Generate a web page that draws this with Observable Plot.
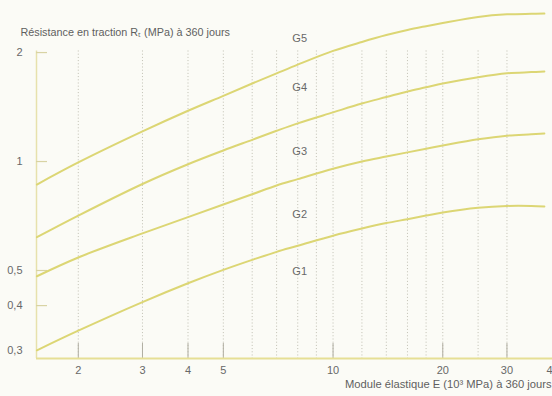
<!DOCTYPE html>
<html><head><meta charset="utf-8">
<script src="https://cdn.jsdelivr.net/npm/d3@7"></script>
<script src="https://cdn.jsdelivr.net/npm/@observablehq/plot@0.6"></script>
<style>
html,body{margin:0;padding:0;background:#fbfbf6;overflow:hidden;}
</style></head><body><div id="chart"></div>
<script>
// Module élastique E (10^3 MPa) sample points
const modulus = [1.54, 2, 3, 4, 5, 6, 7, 8, 10, 12, 14, 16, 18, 20, 25, 30, 35, 38];
// Limit curves between classes (Rt in MPa)
const limitG4G5 = [0.864, 0.994, 1.211, 1.381, 1.519, 1.643, 1.752, 1.852, 2.021, 2.139, 2.235, 2.309, 2.365, 2.413, 2.508, 2.550, 2.559, 2.562];
const limitG3G4 = [0.618, 0.709, 0.867, 0.983, 1.073, 1.148, 1.216, 1.275, 1.367, 1.446, 1.507, 1.562, 1.604, 1.643, 1.710, 1.753, 1.766, 1.773];
const limitG2G3 = [0.482, 0.543, 0.633, 0.702, 0.761, 0.812, 0.859, 0.894, 0.955, 1.000, 1.032, 1.060, 1.085, 1.107, 1.152, 1.179, 1.189, 1.195];
const limitG1G2 = [0.301, 0.341, 0.409, 0.461, 0.502, 0.535, 0.563, 0.585, 0.624, 0.653, 0.676, 0.693, 0.709, 0.723, 0.745, 0.754, 0.754, 0.751];

const zoneNames = ["G5", "G4", "G3", "G2", "G1"];
const zoneE = [8.1, 8.1, 8.1, 8.1, 8.1];
const zoneRt = [2.19, 1.60, 1.066, 0.714, 0.497];

const xTickValues = [2, 3, 4, 5, 10, 20, 30, 40];
const xGridValues = [2, 3, 4, 5, 6, 7, 8, 9, 10, 12, 14, 16, 18, 20, 25, 30];
const yTickValues = [0.3, 0.4, 0.5, 1, 2];
const yTickLabels = ["0,3", "0,4", "0,5", "1", "2"];
const yMarkValues = [0.4, 0.5, 1, 2];

const titleText = "Résistance en traction Rₜ (MPa) à 360 jours";
const xLabelText = "Module élastique E (10³ MPa) à 360 jours";

const xDomain = [1.536, 40];
const yDomain = [0.2857, 2.785];

const curves = [
  {name: "G4/G5", values: limitG4G5},
  {name: "G3/G4", values: limitG3G4},
  {name: "G2/G3", values: limitG2G3},
  {name: "G1/G2", values: limitG1G2}
];
const rows = curves.flatMap(c => modulus.map((e, i) => ({curve: c.name, E: e, Rt: c.values[i]})));
const zones = zoneNames.map((n, i) => ({name: n, E: zoneE[i], Rt: zoneRt[i]}));

const curveColor = "#dcd674";
const textColor = "#686868";

const chart = Plot.plot({
  width: 552,
  height: 396,
  marginLeft: 36,
  marginRight: 0,
  marginTop: 0,
  marginBottom: 38,
  style: {background: "transparent", fontFamily: "'Liberation Sans', Arial, sans-serif", fontSize: "10px", color: textColor, overflow: "visible"},
  x: {type: "log", domain: xDomain},
  y: {type: "log", domain: yDomain},
  marks: [
    Plot.ruleX(xGridValues, {x: d => d, y1: 2.02, y2: yDomain[0], stroke: "#b3b1a3", strokeDasharray: "1,2.2", strokeWidth: 1, strokeOpacity: 0.8}),
    Plot.ruleX([xDomain[0]], {x: d => d, y1: yDomain[0], y2: 2.02, stroke: "#e7e1ac", strokeWidth: 1.5}),
    Plot.axisX(xTickValues, {label: null, tickSize: -15, tickFormat: () => "", stroke: "#b0aea2", strokeWidth: 1}),
    Plot.axisX(xTickValues, {label: null, tickSize: 0, tickPadding: 8, tickFormat: d => String(d), fill: textColor, fontSize: 11}),
    Plot.axisY(yMarkValues, {label: null, tickSize: -11, tickFormat: () => "", stroke: "#d8d3a4", strokeWidth: 1.2}),
    Plot.axisY(yTickValues, {label: null, tickSize: 0, tickPadding: 14, tickFormat: d => yTickLabels[yTickValues.indexOf(d)], fill: textColor, fontSize: 11}),
    Plot.ruleY([yDomain[0]], {y: d => d, stroke: "#e6df95", strokeWidth: 2}),
    Plot.line(rows, {x: "E", y: "Rt", z: "curve", curve: "catmull-rom", stroke: curveColor, strokeWidth: 2}),
    Plot.text(zones, {x: "E", y: "Rt", text: "name", fill: textColor, fontSize: 11}),
    Plot.text([titleText], {frameAnchor: "top-left", dx: -16, dy: 32, textAnchor: "start", lineAnchor: "middle", fill: "#5f5f5f", fontSize: 10.8}),
    Plot.text([xLabelText], {frameAnchor: "bottom-right", dx: -1, dy: 26, textAnchor: "end", lineAnchor: "middle", fill: "#5f5f5f", fontSize: 11.2})
  ]
});
document.getElementById("chart").appendChild(chart);
</script>
</body></html>
